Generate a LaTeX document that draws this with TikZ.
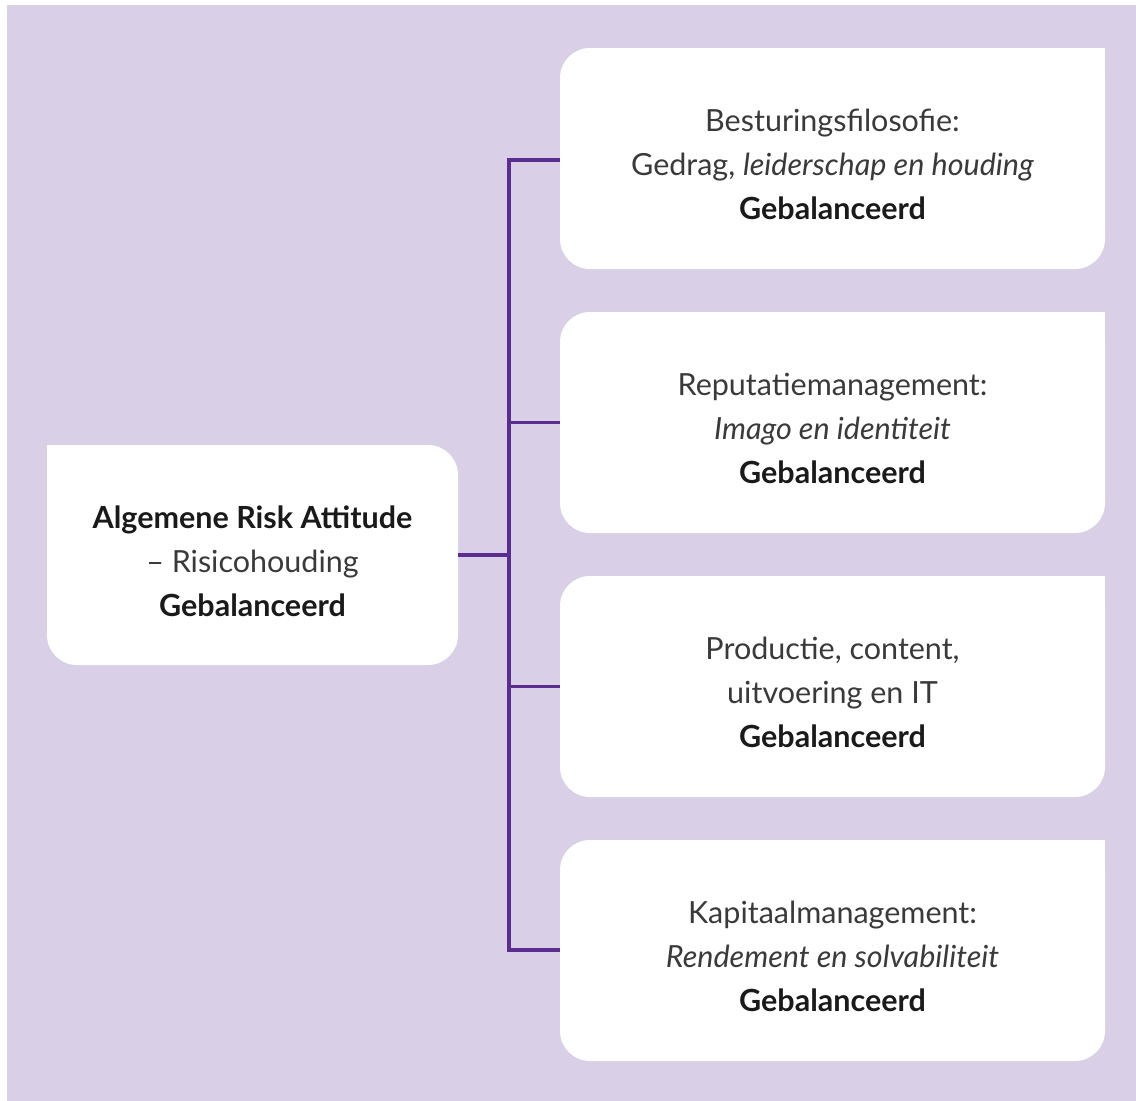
\documentclass[tikz,border=0pt]{standalone}
\usepackage{fontspec}
\setmainfont{Lato}
\definecolor{bgl}{HTML}{D9D0E8}
\definecolor{lnp}{HTML}{5C2D91}
\definecolor{txg}{HTML}{3A3A3A}
\definecolor{txb}{HTML}{1A1A1A}
\tikzset{
  card/.style={fill=white, rounded corners=30pt, inner sep=0pt, minimum width=545pt, minimum height=221pt},
  lcard/.style={fill=white, rounded corners=30pt, inner sep=0pt, minimum width=411pt, minimum height=220pt},
  txt/.style={align=center, font=\fontsize{30.5}{44}\selectfont, text=txg},
  conn/.style={draw=lnp, line width=3.2pt},
}
\newcommand{\gb}{{\bfseries\color{txb}Gebalanceerd}}
\begin{document}
\begin{tikzpicture}[x=1pt,y=-1pt]
\useasboundingbox (0,0) rectangle (1136,1101);
\fill[bgl] (7,5) rectangle (1136,1101);
% boxes
\node[lcard] (main) at (252.5,555) {};
\fill[white] (main.north west) rectangle ++(40,40);
\node[card] (b1) at (832.5,158.5) {};
\node[card] (b2) at (832.5,422.5) {};
\node[card] (b3) at (832.5,686.5) {};
\node[card] (b4) at (832.5,950.5) {};
\foreach \b in {b1,b2,b3,b4}{\fill[white] (\b.north east) rectangle ++(-40,40);}
% texts
\node[txt] (tmain) at ([yshift=-6pt]main.center) {{\bfseries\color{txb}Algemene Risk Attitude}\\ – Risicohouding\\ \gb};
\node[txt] (t1) at ([yshift=-6pt]b1.center) {Besturingsfilosofie:\\ Gedrag, \textit{leiderschap en houding}\\ \gb};
\node[txt] (t2) at ([yshift=-6pt]b2.center) {Reputatiemanagement:\\ \textit{Imago en identiteit}\\ \gb};
\node[txt] (t3) at ([yshift=-6pt]b3.center) {Productie, content,\\ uitvoering en IT\\ \gb};
\node[txt] (t4) at ([yshift=-6pt]b4.center) {Kapitaalmanagement:\\ \textit{Rendement en solvabiliteit}\\ \gb};
% connectors
\coordinate (jn) at (509,555);
\coordinate (top) at (509,160);
\coordinate (bot) at (509,950);
\draw[conn] (main.east) -- (jn);
\draw[conn, line cap=rect] (top) -- (bot);
\draw[conn] (top) -- (b1.west |- top);
\draw[conn] (jn |- b2.west) -- (b2.west);
\draw[conn] (jn |- b3.west) -- (b3.west);
\draw[conn] (bot) -- (b4.west |- bot);
\end{tikzpicture}
\end{document}
